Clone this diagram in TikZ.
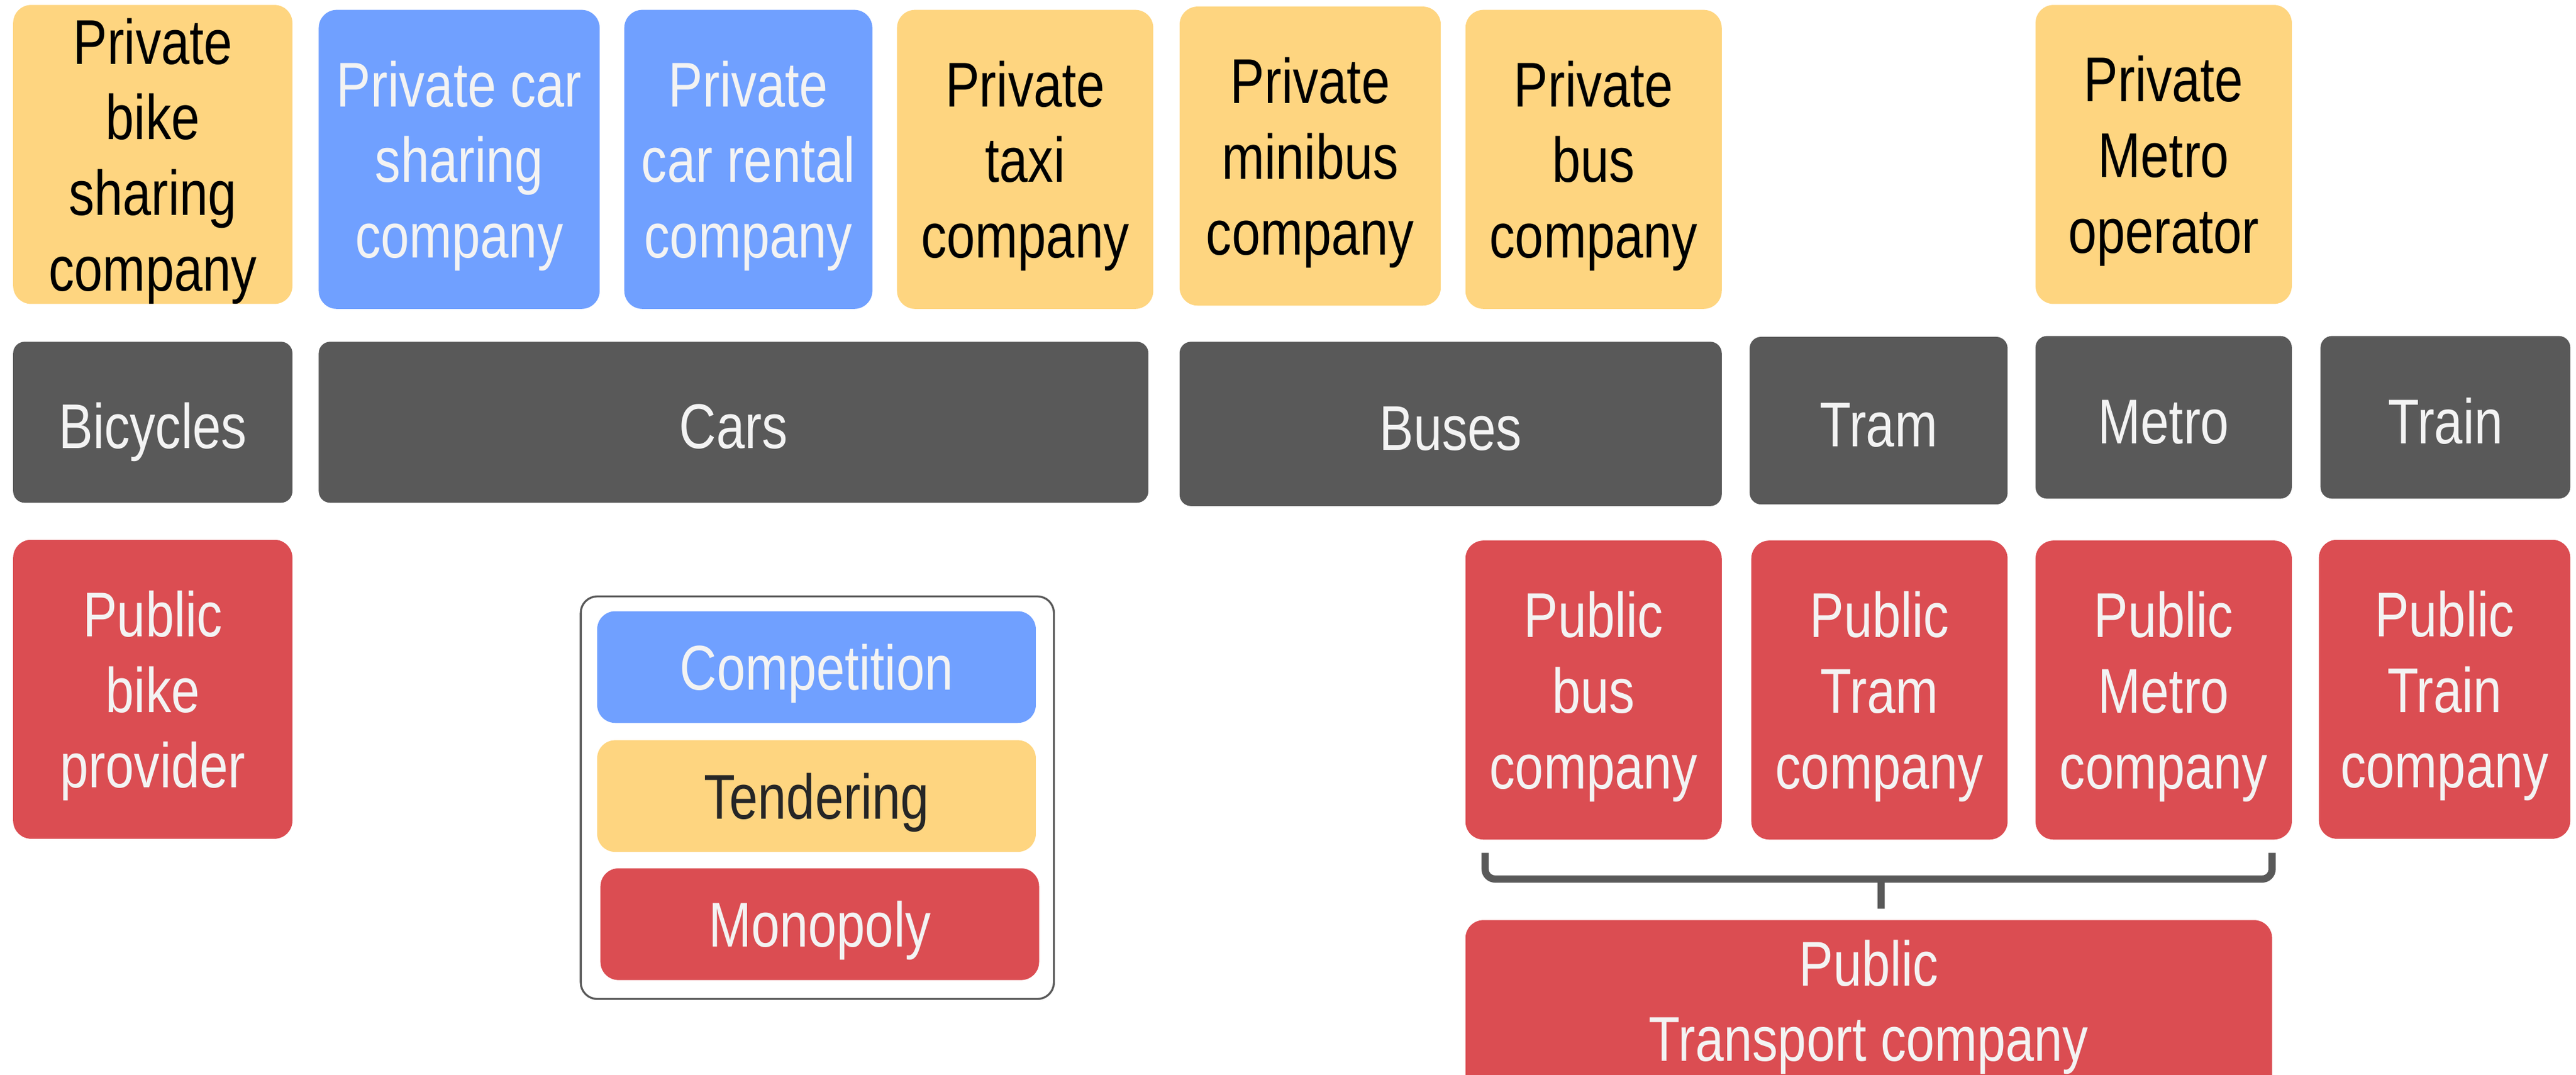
\documentclass[tikz,border=0pt]{standalone}
\usepackage{fontspec}
\setmainfont[FakeStretch=0.81]{Liberation Sans}
\usepackage{tikz}
\usetikzlibrary{shapes,positioning}
\definecolor{tendcol}{HTML}{FED580}
\definecolor{compcol}{HTML}{70A0FF}
\definecolor{monocol}{HTML}{DB4D52}
\definecolor{modecol}{HTML}{595959}
\definecolor{lighttxt}{HTML}{F3F3F3}
\tikzstyle{card} = [inner sep=0pt, text centered, align=center, rounded corners=11pt, minimum width=156pt, minimum height=182pt, font=\fontsize{38.5}{46}\selectfont, text depth=0pt]
\tikzstyle{tenderbox} = [card, fill=tendcol, text=black]
\tikzstyle{competebox} = [card, fill=compcol, text=lighttxt]
\tikzstyle{monobox} = [card, fill=monocol, text=lighttxt]
\tikzstyle{modebox} = [card, fill=modecol, text=lighttxt, rounded corners=7pt, minimum height=99pt, text height=32pt]
\tikzstyle{keybox} = [minimum width=267pt, minimum height=68pt]
\tikzstyle{bracket} = [draw=modecol, line width=4.4pt, rounded corners=6pt]

\begin{document}
\begin{tikzpicture}[x=1pt,y=-1pt]
\useasboundingbox (0,0) rectangle (1568,654);
% operators
\node[tenderbox, minimum width=170pt] (pbike) at (93,94) {Private\\bike\\sharing\\company};
\node[competebox, minimum width=171pt] (pcarshare) at (279.5,97) {Private car\\sharing\\company};
\node[competebox, minimum width=151pt] (pcarrent) at (455.5,97) {Private\\car rental\\company};
\node[tenderbox] (ptaxi) at (624,97) {Private\\taxi\\company};
\node[tenderbox, minimum width=159pt] (pminibus) at (797.5,95) {Private\\minibus\\company};
\node[tenderbox] (pbus) at (970,97) {Private\\bus\\company};
\node[tenderbox] (pmetro) at (1317,94) {Private\\Metro\\operator};
% modes
\node[modebox, minimum width=170pt, minimum height=98pt] (bicycles) at (93,257) {Bicycles};
\node[modebox, minimum width=505pt, minimum height=98pt] (cars) at (446.5,257) {Cars};
\node[modebox, minimum width=330pt, minimum height=100pt] (buses) at (883,258) {Buses};
\node[modebox, minimum width=157pt, minimum height=102pt] (tram) at (1143.5,256) {Tram};
\node[modebox] (metro) at (1317,254) {Metro};
\node[modebox, minimum width=152pt] (train) at (1488.5,254) {Train};
% public operators
\node[monobox, minimum width=170pt] (pubbike) at (93,419.5) {Public\\bike\\provider};
\node[monobox] (pubbus) at (970,420) {Public\\bus\\company};
\node[monobox] (pubtram) at (1144,420) {Public\\Tram\\company};
\node[monobox] (pubmetro) at (1317,420) {Public\\Metro\\company};
\node[monobox, minimum width=153pt] (pubtrain) at (1488,419.5) {Public\\Train\\company};
% legend
\node[draw=modecol, line width=1.2pt, rounded corners=10pt, minimum width=288pt, minimum height=245pt] (legend) at (497.5,485.5) {};
\node[competebox, keybox] (kcomp) at (497,406) {Competition};
\node[tenderbox, keybox, text=black!85] (ktend) at (497,484.5) {Tendering};
\node[monobox, keybox] (kmono) at (499,562.5) {Monopoly};
% bracket
\draw[bracket] (904,519) -- (904,535) -- (1383,535) -- (1383,519);
\draw[bracket] (1145,535) -- (1145,553);
\node[monobox, minimum width=491pt, minimum height=106pt, text depth=8pt] (ptc) at (1137.5,613) {Public\\Transport company};
\end{tikzpicture}
\end{document}
